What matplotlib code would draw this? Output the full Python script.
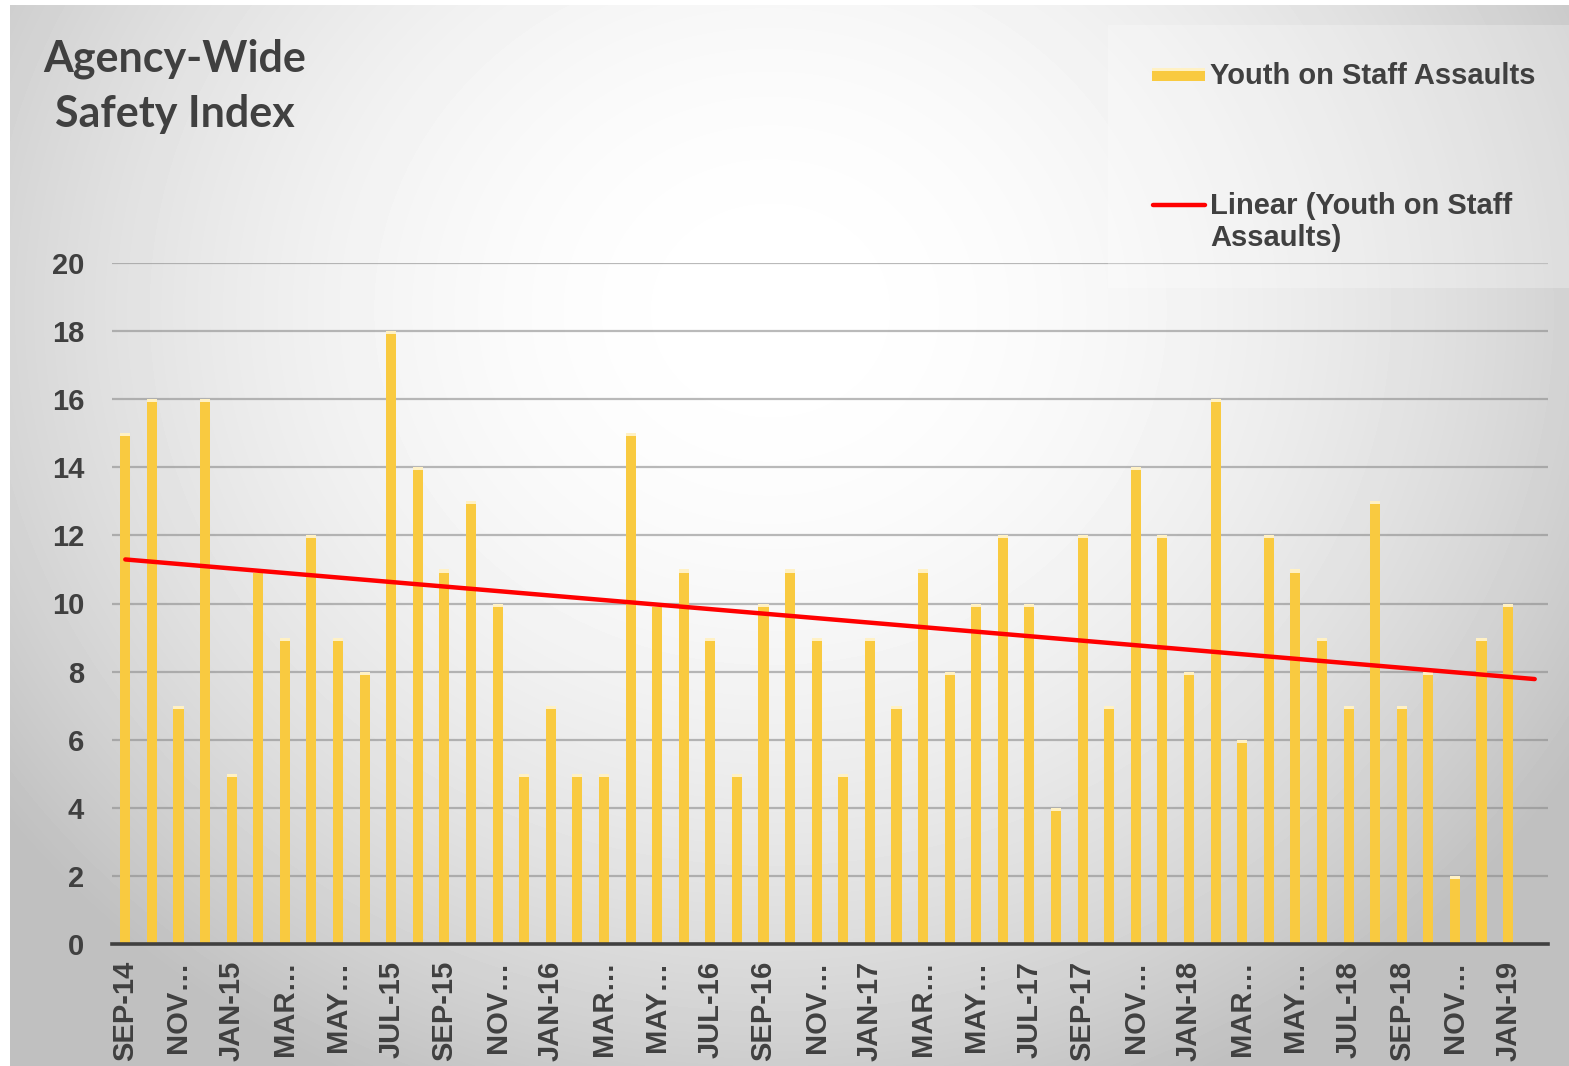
import numpy as np
import matplotlib
matplotlib.use("Agg")
import matplotlib.pyplot as plt
from matplotlib.patches import Rectangle
from matplotlib.lines import Line2D

# monthly youth-on-staff assault counts, Sep 2014 .. Feb 2019
# (Feb 2019 not reported yet, counted as 0)
months = ["SEP-14", "OCT-14", "NOV-14", "DEC-14",
          "JAN-15", "FEB-15", "MAR-15", "APR-15", "MAY-15", "JUN-15",
          "JUL-15", "AUG-15", "SEP-15", "OCT-15", "NOV-15", "DEC-15",
          "JAN-16", "FEB-16", "MAR-16", "APR-16", "MAY-16", "JUN-16",
          "JUL-16", "AUG-16", "SEP-16", "OCT-16", "NOV-16", "DEC-16",
          "JAN-17", "FEB-17", "MAR-17", "APR-17", "MAY-17", "JUN-17",
          "JUL-17", "AUG-17", "SEP-17", "OCT-17", "NOV-17", "DEC-17",
          "JAN-18", "FEB-18", "MAR-18", "APR-18", "MAY-18", "JUN-18",
          "JUL-18", "AUG-18", "SEP-18", "OCT-18", "NOV-18", "DEC-18",
          "JAN-19", "FEB-19"]
assaults = [15, 16, 7, 16,
            5, 11, 9, 12, 9, 8, 18, 14, 11, 13, 10, 5,
            7, 5, 5, 15, 10, 11, 9, 5, 10, 11, 9, 5,
            9, 7, 11, 8, 10, 12, 10, 4, 12, 7, 14, 12,
            8, 16, 6, 12, 11, 9, 7, 13, 7, 8, 2, 9,
            10, 0]
# every other month is labelled; the long ones get cut short
tick_labels = ["SEP-14", "NOV…", "JAN-15", "MAR…", "MAY…", "JUL-15",
               "SEP-15", "NOV…", "JAN-16", "MAR…", "MAY…", "JUL-16",
               "SEP-16", "NOV…", "JAN-17", "MAR…", "MAY…", "JUL-17",
               "SEP-17", "NOV…", "JAN-18", "MAR…", "MAY…", "JUL-18",
               "SEP-18", "NOV…", "JAN-19"]

W, H = 1569, 1066
text_col = "#404040"
bar_col = "#F9CA40"
cap_col = "#FFF1C4"

fig = plt.figure(figsize=(W / 100, H / 100), dpi=100, facecolor="white")

# soft radial backdrop
bg = fig.add_axes([10 / W, 0, (W - 10) / W, (H - 5) / H], zorder=-10)
yy, xx = np.mgrid[5:H, 10:W]
d2 = ((xx - 770) / 950.0) ** 2 + ((yy - 310) / 850.0) ** 2
shade = 255 - 63 * np.clip(d2, 0, 1)
bg.imshow(shade, cmap="gray", vmin=0, vmax=255, aspect="auto",
          interpolation="bilinear")
bg.axis("off")

ax = fig.add_axes([112 / W, 1 - 944 / H, (1548 - 112) / W, (944 - 263) / H])
ax.patch.set_alpha(0)

x = np.arange(len(assaults))
vals = np.array(assaults, dtype=float)
bw = 0.38
shown = vals > 0
ax.bar(x[shown], vals[shown], width=bw, color=bar_col, zorder=3)
ax.bar(x[shown], 0.09, bottom=vals[shown] - 0.09, width=bw, color=cap_col,
       zorder=3)

# linear trend over all months
k, b = np.polyfit(x, vals, 1)
tx = np.array([x[0], x[-1]])
ax.plot(tx, k * tx + b, color="#FF0000", lw=3.2, zorder=4,
        solid_capstyle="round")

ax.set_xlim(-0.5, len(x) - 0.5)
ax.set_ylim(0, 20)
ax.set_yticks(np.arange(0, 21, 2))
ax.set_xticks(x[::2][:len(tick_labels)])
ax.set_xticklabels(tick_labels, rotation=90, ha="center", va="top")
for lab in ax.get_xticklabels() + ax.get_yticklabels():
    lab.set_fontfamily("Liberation Sans")
    lab.set_fontweight("bold")
    lab.set_fontsize(21)
    lab.set_color(text_col)
ax.tick_params(axis="x", length=0, pad=12)
ax.tick_params(axis="y", length=0, pad=20)
ax.yaxis.grid(True, color="#8c8c8c", lw=1.6, alpha=0.6, zorder=1)
ax.set_axisbelow(True)
for s in ["top", "right", "left"]:
    ax.spines[s].set_visible(False)
ax.spines["bottom"].set_color(text_col)
ax.spines["bottom"].set_linewidth(2.6)
ax.spines["bottom"].set_zorder(5)

fig.text(175 / W, 1 - 86 / H, "Agency-Wide\nSafety Index", ha="center",
         va="center", multialignment="center", fontsize=31,
         fontweight="bold", family="Lato", color=text_col, linespacing=1.45)

# legend panel
fig.patches.append(Rectangle((1108 / W, 1 - 288 / H), (W - 1108) / W,
                             (288 - 25) / H, transform=fig.transFigure,
                             facecolor="white", alpha=0.25, edgecolor="none",
                             zorder=2))
fig.patches.append(Rectangle((1152 / W, 1 - 81 / H), 53 / W, 13 / H,
                             transform=fig.transFigure, facecolor=bar_col,
                             edgecolor="none", zorder=3))
fig.patches.append(Rectangle((1152 / W, 1 - 71 / H), 53 / W, 3 / H,
                             transform=fig.transFigure, facecolor=cap_col,
                             edgecolor="none", zorder=3))
fig.lines.append(Line2D([1153 / W, 1205 / W], [1 - 205 / H, 1 - 205 / H],
                        transform=fig.transFigure, color="#FF0000", lw=3.2,
                        solid_capstyle="round", zorder=3))
leg_kw = dict(fontsize=21, fontweight="bold", family="Liberation Sans",
              color=text_col, ha="left", zorder=4)
fig.text(1210 / W, 1 - 76 / H, "Youth on Staff Assaults", va="center",
         **leg_kw)
fig.text(1210 / W, 1 - 192 / H, "Linear (Youth on Staff\nAssaults)",
         va="top", linespacing=1.17, **leg_kw)

fig.savefig("out.png", dpi=100, facecolor=fig.get_facecolor())
